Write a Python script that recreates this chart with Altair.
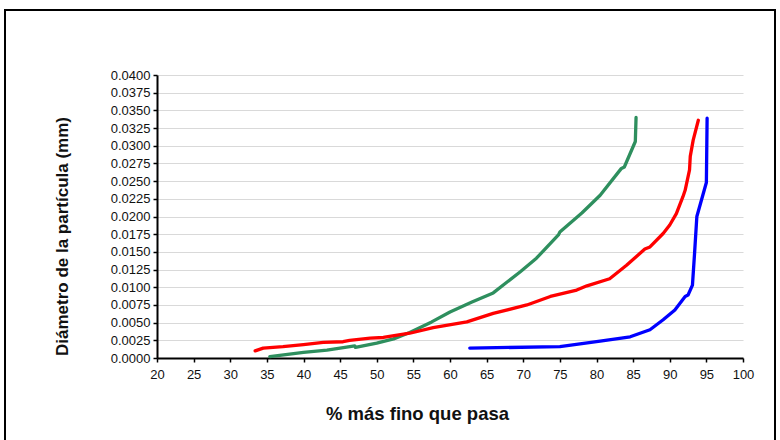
import altair as alt
import pandas as pd

# % finer-than values (x) and particle diameter in mm (y) for each gradation curve
green_pct = [35.4, 40.0, 43.2, 47.0, 47.1, 50.0, 52.3, 54.5, 57.5, 60.0, 63.0, 65.9,
             69.6, 71.8, 74.8, 75.0, 78.0, 80.5, 83.4, 83.8, 85.3, 85.4]
green_mm = [0.0002, 0.0008, 0.0011, 0.0017, 0.0015, 0.0021, 0.0027, 0.0036, 0.0051, 0.0065,
            0.0079, 0.0092, 0.0122, 0.0141, 0.0174, 0.0178, 0.0205, 0.0230, 0.0268, 0.0270,
            0.0306, 0.0340]

red_pct = [33.4, 34.5, 37.2, 40.0, 42.7, 45.4, 46.3, 49.1, 50.9, 54.5, 57.7, 62.3, 65.9,
           70.5, 73.7, 77.3, 78.7, 81.8, 84.1, 86.6, 87.3, 89.1, 90.0, 90.9, 91.8, 92.1,
           92.7, 92.8, 93.2, 93.9]
red_mm = [0.0010, 0.0014, 0.0016, 0.0019, 0.0022, 0.0023, 0.0025, 0.0028, 0.0029, 0.0035,
          0.0043, 0.0051, 0.0063, 0.0075, 0.0087, 0.0096, 0.0102, 0.0112, 0.0131, 0.0154,
          0.0157, 0.0176, 0.0188, 0.0204, 0.0228, 0.0237, 0.0266, 0.0285, 0.0308, 0.0336]

blue_pct = [62.7, 75.0, 80.5, 84.6, 87.3, 89.1, 90.7, 92.1, 92.5, 93.1, 93.4, 93.7, 95.0, 95.1]
blue_mm = [0.0014, 0.0016, 0.0024, 0.0030, 0.0040, 0.0054, 0.0068, 0.0087, 0.0089, 0.0103,
           0.0150, 0.0200, 0.0248, 0.0339]

x_ticks = list(range(20, 101, 5))
y_ticks = [round(i * 0.0025, 4) for i in range(17)]

series = [("verde", green_pct, green_mm), ("rojo", red_pct, red_mm), ("azul", blue_pct, blue_mm)]
rows = []
for name, xs, ys in series:
    for i, (xv, yv) in enumerate(zip(xs, ys)):
        rows.append({"serie": name, "pct": xv, "mm": yv, "i": i})
df = pd.DataFrame(rows)

FONT = "Liberation Sans"

lines = alt.Chart(df).mark_line(strokeWidth=3.3, strokeJoin="round", strokeCap="round").encode(
    x=alt.X("pct:Q", scale=alt.Scale(domain=[20, 100], nice=False),
            axis=alt.Axis(values=x_ticks, title="% más fino que pasa", grid=False,
                          labelFlush=False, labelPadding=6, labelFontSize=13,
                          titleFontSize=18.5, titleX=260, titleY=55, titleAlign="center",
                          titleBaseline="middle")),
    y=alt.Y("mm:Q", scale=alt.Scale(domain=[0, 0.04], nice=False),
            axis=alt.Axis(values=y_ticks, format=".4f", title="Diámetro de la partícula (mm)",
                          grid=True, labelFlush=False, labelPadding=3, labelFontSize=13,
                          titleFontSize=17, titleX=-95, titleY=161, titleAlign="center",
                          titleBaseline="middle")),
    color=alt.Color("serie:N", scale=alt.Scale(domain=["verde", "rojo", "azul"],
                                               range=["#2E8F5E", "#FF0000", "#0000FF"]),
                    legend=None),
    detail="serie:N",
    order="i:Q",
)

# outer frame around the whole figure
frame = alt.Chart(alt.Data(values=[{"a": 1}])).mark_rect(
    fill=None, stroke="black", strokeWidth=2, clip=False
).encode(
    x=alt.value(-152), x2=alt.value(618), y=alt.value(-65), y2=alt.value(372)
)

chart = alt.layer(lines, frame).properties(
    width=586, height=283,
    padding={"left": 157, "top": 75, "right": 37, "bottom": 82},
    autosize=alt.AutoSizeParams(type="none"),
    background="white",
).configure_view(stroke=None).configure_axis(
    labelFont=FONT, titleFont=FONT,
    titleFontWeight="bold", labelColor="#111", titleColor="#111",
    domainColor="black", domainWidth=2, tickColor="black", tickWidth=1.5, tickSize=4,
    gridColor="#d9d9d9", gridWidth=1.2,
)

chart.save("out.html", embed_options={"renderer": "svg", "actions": False})
